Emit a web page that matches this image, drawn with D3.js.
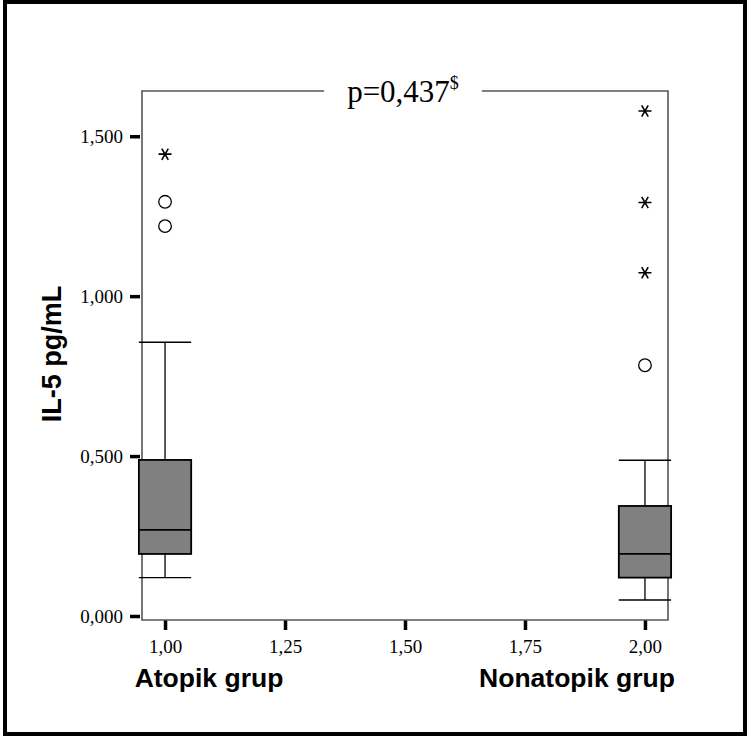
<!DOCTYPE html>
<html>
<head>
<meta charset="utf-8">
<script src="https://cdn.jsdelivr.net/npm/d3@7"></script>
<style>
  html, body { margin: 0; padding: 0; background: #fff; }
  svg { display: block; }
</style>
</head>
<body>
<div id="chart"></div>
<script>
// data
const groupNames = ['Atopik grup', 'Nonatopik grup'];
const groupX = [1.00, 2.00];
const whiskerLow = [0.120, 0.050];
const q1 = [0.194, 0.120];
const median = [0.269, 0.194];
const q3 = [0.488, 0.344];
const whiskerHigh = [0.856, 0.487];
const outliers = [[1.295, 1.219], [0.784]];
const extremes = [[1.444], [1.579, 1.293, 1.073]];
const xTicks = [1.00, 1.25, 1.50, 1.75, 2.00];
const yTicks = [0, 0.5, 1.0, 1.5];
const pText = 'p=0,437';
const pSup = '$';
const yLabel = 'IL-5 pg/mL';

// settings
const width = 749;
const height = 738;
const frame = { left: 142, right: 668, top: 91, bottom: 620 };
const boxWidth = 0.109;
const boxFill = '#808080';
const frameColor = '#555';

const locale = d3.formatLocale({ decimal: ',', thousands: '.', grouping: [3], currency: ['', ''] });

const svg = d3.select('#chart')
  .append('svg')
  .attr('width', width)
  .attr('height', height);

// outer border
svg.append('rect')
  .attr('x', 5).attr('y', 2)
  .attr('width', 740).attr('height', 732)
  .attr('fill', 'none')
  .attr('stroke', '#000')
  .attr('stroke-width', 4);

const x = d3.scaleLinear()
  .domain([0.952, 2.048])
  .range([frame.left, frame.right]);

const y = d3.scaleLinear()
  .domain([-0.0125, 1.6415])
  .range([frame.bottom, frame.top]);

// axes
const yAxis = svg.append('g')
  .attr('transform', `translate(${frame.left - 2},0)`)
  .call(d3.axisLeft(y).tickValues(yTicks).tickSize(10).tickPadding(7)
    .tickFormat(locale.format('.3f')));
yAxis.select('.domain').remove();
yAxis.selectAll('.tick line').attr('stroke', '#000').attr('stroke-width', 3.5);
yAxis.selectAll('.tick text')
  .attr('font-family', '"Liberation Serif", "Times New Roman", serif')
  .attr('font-size', 19)
  .attr('fill', '#000');

const xAxis = svg.append('g')
  .attr('transform', `translate(0,${frame.bottom})`)
  .call(d3.axisBottom(x).tickValues(xTicks).tickSize(10).tickPadding(9.5)
    .tickFormat(locale.format('.2f')));
xAxis.select('.domain').remove();
xAxis.selectAll('.tick line').attr('stroke', '#000').attr('stroke-width', 3.5);
xAxis.selectAll('.tick text')
  .attr('font-family', '"Liberation Serif", "Times New Roman", serif')
  .attr('font-size', 19)
  .attr('fill', '#000');

// title, breaking the top frame line
const title = svg.append('text')
  .attr('x', 403)
  .attr('y', 102)
  .attr('text-anchor', 'middle')
  .attr('font-family', '"Liberation Serif", "Times New Roman", serif')
  .attr('font-size', 31)
  .attr('fill', '#000');
title.append('tspan').text(pText);
title.append('tspan').attr('font-size', 18).attr('dy', -13).text(pSup);
const tb = title.node().getBBox();

const frameG = svg.append('g')
  .attr('stroke', frameColor)
  .attr('stroke-width', 1.6)
  .attr('fill', 'none');
frameG.append('path')
  .attr('d', `M${tb.x - 23},${frame.top}H${frame.left}V${frame.bottom}H${frame.right}V${frame.top}H${tb.x + tb.width + 23}`);

// boxes
const groups = groupX.map((gx, i) => ({
  x: gx, lo: whiskerLow[i], q1: q1[i], med: median[i], q3: q3[i], hi: whiskerHigh[i],
  out: outliers[i], ext: extremes[i]
}));

const g = svg.append('g').selectAll('g')
  .data(groups)
  .join('g');

g.append('line')
  .attr('x1', d => x(d.x)).attr('x2', d => x(d.x))
  .attr('y1', d => y(d.lo)).attr('y2', d => y(d.q1))
  .attr('stroke', '#000').attr('stroke-width', 1.3);
g.append('line')
  .attr('x1', d => x(d.x)).attr('x2', d => x(d.x))
  .attr('y1', d => y(d.q3)).attr('y2', d => y(d.hi))
  .attr('stroke', '#000').attr('stroke-width', 1.3);
g.selectAll('line.cap')
  .data(d => [d.lo, d.hi].map(v => ({ x: d.x, v })))
  .join('line')
  .attr('class', 'cap')
  .attr('x1', d => x(d.x - boxWidth / 2)).attr('x2', d => x(d.x + boxWidth / 2))
  .attr('y1', d => y(d.v)).attr('y2', d => y(d.v))
  .attr('stroke', '#000').attr('stroke-width', 1.3);
g.append('rect')
  .attr('x', d => x(d.x - boxWidth / 2))
  .attr('width', d => x(d.x + boxWidth / 2) - x(d.x - boxWidth / 2))
  .attr('y', d => y(d.q3))
  .attr('height', d => y(d.q1) - y(d.q3))
  .attr('fill', boxFill)
  .attr('stroke', '#000')
  .attr('stroke-width', 1.8);
g.append('line')
  .attr('x1', d => x(d.x - boxWidth / 2)).attr('x2', d => x(d.x + boxWidth / 2))
  .attr('y1', d => y(d.med)).attr('y2', d => y(d.med))
  .attr('stroke', '#000').attr('stroke-width', 1.8);

// outliers (circles) and extremes (stars)
g.selectAll('circle')
  .data(d => d.out.map(v => ({ x: d.x, v })))
  .join('circle')
  .attr('cx', d => x(d.x))
  .attr('cy', d => y(d.v))
  .attr('r', 6.3)
  .attr('fill', 'none')
  .attr('stroke', '#000')
  .attr('stroke-width', 1.3);

const star = (cx, cy, r) => {
  let p = `M${cx - r},${cy}H${cx + r}`;
  [60, 120].forEach(a => {
    const dx = r * Math.cos(a * Math.PI / 180);
    const dy = r * Math.sin(a * Math.PI / 180);
    p += `M${cx - dx},${cy - dy}L${cx + dx},${cy + dy}`;
  });
  return p;
};
g.selectAll('path.star')
  .data(d => d.ext.map(v => ({ x: d.x, v })))
  .join('path')
  .attr('class', 'star')
  .attr('d', d => star(x(d.x), y(d.v), 6.5))
  .attr('fill', 'none')
  .attr('stroke', '#000')
  .attr('stroke-width', 1.6);

// axis titles
svg.append('text')
  .attr('transform', `translate(61,${354}) rotate(-90)`)
  .attr('text-anchor', 'middle')
  .attr('font-family', '"Liberation Sans", Arial, sans-serif')
  .attr('font-weight', 'bold')
  .attr('font-size', 27)
  .attr('fill', '#000')
  .text(yLabel);

svg.append('g').selectAll('text')
  .data(groupNames)
  .join('text')
  .attr('x', (d, i) => i === 0 ? 209 : 577)
  .attr('y', 687)
  .attr('text-anchor', 'middle')
  .attr('font-family', '"Liberation Sans", Arial, sans-serif')
  .attr('font-weight', 'bold')
  .attr('font-size', 26.5)
  .attr('fill', '#000')
  .text(d => d);
</script>
</body>
</html>
